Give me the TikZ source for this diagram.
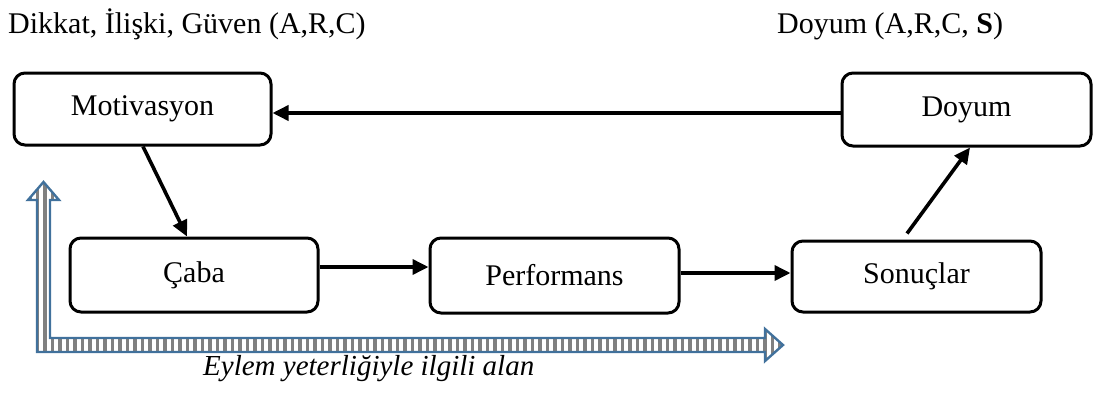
\documentclass[tikz,border=0pt]{standalone}
\usepackage{fontspec}
\setmainfont{Liberation Serif}
\usetikzlibrary{arrows.meta,patterns.meta}
\definecolor{arrblue}{RGB}{65,113,156}
\tikzset{
  box/.style={draw=black,line width=3pt,rounded corners=11pt,inner sep=0pt,align=center,font=\fontsize{30}{34}\selectfont},
  arr/.style={line width=3.6pt,-{Triangle[length=16pt,width=15pt]}},
  lbl/.style={inner sep=0pt,font=\fontsize{30}{34}\selectfont},
}
\begin{document}
\begin{tikzpicture}[x=1pt,y=-1pt]
\useasboundingbox (0,0) rectangle (1093,394);
% blue L-shaped arrow
\path[draw=arrblue,line width=2.4pt,line join=miter,
  pattern={Lines[angle=90,distance=7.5pt,line width=3.8pt]},pattern color=gray]
  (37,352) -- (37,200) -- (28,200) -- (43.5,182) -- (59,200) -- (50,200)
  -- (50,338) -- (765,338) -- (765,329) -- (783,345) -- (765,361) -- (765,352) -- cycle;
% boxes
\node[box,minimum width=257pt,minimum height=72pt] (mot) at (142.5,109) {Motivasyon};
\node[box,minimum width=249pt,minimum height=73pt] (dy) at (966.5,109.5) {Doyum};
\node[box,minimum width=248pt,minimum height=74pt] (caba) at (194,275) {Çaba};
\node[box,minimum width=249pt,minimum height=75pt] (perf) at (554.5,275.5) {Performans};
\node[box,minimum width=249pt,minimum height=71pt] (son) at (916.5,276.5) {Sonuçlar};
% labels
\node[lbl,anchor=base west] (h1) at (8,33) {Dikkat, İlişki, Güven (A,R,C)};
\node[lbl,anchor=base west] (h2) at (777,33) {Doyum (A,R,C, \textbf{S})};
\node[lbl,anchor=base west,font=\fontsize{29}{34}\selectfont\itshape] (h3) at (203,375) {Eylem yeterliğiyle ilgili alan};
% connectors
\draw[arr] ([yshift=-3.5pt]dy.west) -- ([yshift=-3.5pt]dy.west -| mot.east);
\draw[arr] ([xshift=0.5pt]mot.south) -- ([xshift=-7pt]caba.north);
\draw[arr] ([yshift=8pt]caba.east) -- ([yshift=8pt]caba.east -| perf.west);
\draw[arr] ([yshift=2.5pt]perf.east) -- ([yshift=2.5pt]perf.east -| son.west);
\draw[arr] ([xshift=-9.5pt,yshift=6pt]son.north) -- ([xshift=3.5pt]dy.south);
\end{tikzpicture}
\end{document}
